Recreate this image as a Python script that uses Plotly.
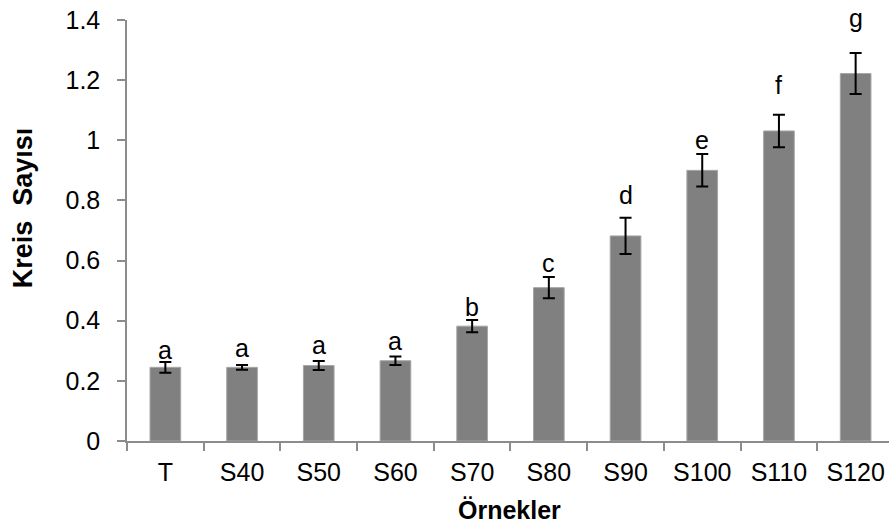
import plotly.graph_objects as go

categories = ["T", "S40", "S50", "S60", "S70", "S80", "S90", "S100", "S110", "S120"]
values = [0.245, 0.245, 0.251, 0.267, 0.382, 0.510, 0.682, 0.900, 1.031, 1.222]
errors = [0.018, 0.008, 0.015, 0.014, 0.020, 0.035, 0.060, 0.054, 0.054, 0.068]
letters = ["a", "a", "a", "a", "b", "c", "d", "e", "f", "g"]
letter_y = [0.303, 0.309, 0.319, 0.333, 0.446, 0.592, 0.818, 1.001, 1.184, 1.407]

font_family = "Liberation Sans, Arial, sans-serif"
Y_MAX = 1.4
PX_PER_UNIT = 421 / Y_MAX

fig = go.Figure()
fig.add_trace(go.Bar(
    x=categories, y=values,
    marker=dict(color="#808080", line=dict(color="#a6a6a6", width=1)),
    width=0.4,
    error_y=dict(type="data", array=errors, visible=True,
                 color="black", thickness=2, width=6),
))

for c, ly, t in zip(categories, letter_y, letters):
    y_in = min(ly, Y_MAX)
    fig.add_annotation(x=c, y=y_in, text=t, showarrow=False,
                       xanchor="center", yanchor="middle",
                       yshift=(ly - y_in) * PX_PER_UNIT,
                       font=dict(family=font_family, size=25, color="black"))

# axis titles
fig.add_annotation(xref="paper", yref="paper", x=0.5026, y=-0.164,
                   text="<b>Örnekler</b>", showarrow=False,
                   xanchor="center", yanchor="middle",
                   font=dict(family=font_family, size=25, color="black"))
fig.add_annotation(xref="paper", yref="paper", x=-0.1365, y=0.555,
                   text="<b>Kreis\u00a0\u00a0Sayısı</b>", showarrow=False, textangle=-90,
                   xanchor="center", yanchor="middle",
                   font=dict(family=font_family, size=27, color="black"))

fig.update_layout(
    width=889, height=526,
    margin=dict(l=127, r=0, t=20, b=85),
    paper_bgcolor="white", plot_bgcolor="white",
    showlegend=False,
    font=dict(family=font_family, size=25, color="black"),
    xaxis=dict(
        type="category", range=[-0.5, 9.435], automargin=False,
        showline=True, linecolor="#8c8c8c", linewidth=1.5,
        ticks="outside", tickson="boundaries", ticklen=8,
        tickcolor="#8c8c8c", tickwidth=1.5,
        showgrid=False, zeroline=False,
        tickfont=dict(size=25), ticklabelstandoff=8,
        ticklabeloverflow="allow",
    ),
    yaxis=dict(
        range=[0, Y_MAX], dtick=0.2, tick0=0, automargin=False,
        showline=True, linecolor="#8c8c8c", linewidth=1.5,
        ticks="outside", ticklen=8, tickcolor="#8c8c8c", tickwidth=1.5,
        showgrid=False, zeroline=False,
        tickfont=dict(size=25), ticklabelstandoff=12,
        ticklabeloverflow="allow",
    ),
)

fig.write_html("out.html", config={"displayModeBar": False},
               post_script="document.body.style.margin='0';")
